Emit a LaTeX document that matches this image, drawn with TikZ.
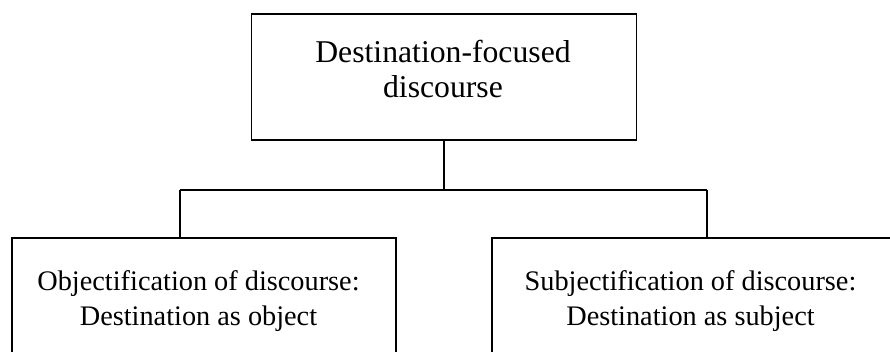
\documentclass[tikz,border=0pt]{standalone}
\usepackage{fontspec}
\setmainfont{Liberation Serif}
\begin{document}
\begin{tikzpicture}[x=1pt,y=-1pt,
  boxstyle/.style={draw,line width=1.3pt,inner sep=0pt},
  txt/.style={align=center,inner sep=0pt,anchor=base},
  bigtxt/.style={txt,font=\fontsize{31.7}{35}\selectfont},
  smalltxt/.style={txt,font=\fontsize{28.3}{35}\selectfont},
  wire/.style={line width=1.3pt}]
\useasboundingbox (0,0) rectangle (890,352);
\clip (0,0) rectangle (890,352);
% boxes
\node[boxstyle,minimum width=385pt,minimum height=126pt] (top) at (444,77) {};
\node[boxstyle,minimum width=384pt,minimum height=140pt] (left) at (204,308) {};
\node[boxstyle,minimum width=404pt,minimum height=140pt] (right) at (694,308) {};
% texts (anchor = baseline of the last line)
\node[bigtxt] (toptext) at (443,98) {Destination-focused\\discourse};
\node[smalltxt] (lefttext) at (198.5,325) {Objectification of discourse:\\Destination as object};
\node[smalltxt] (righttext) at (690.5,325) {Subjectification of discourse:\\Destination as subject};
% connectors
\coordinate (hub) at (444,190);
\coordinate (lhub) at (180,190);
\coordinate (rhub) at (707,190);
\draw[wire] (top.south) -- (hub);
\draw[wire] (lhub) -- (rhub);
\draw[wire] (lhub) -- (lhub |- left.north);
\draw[wire] (rhub) -- (rhub |- right.north);
\end{tikzpicture}
\end{document}
